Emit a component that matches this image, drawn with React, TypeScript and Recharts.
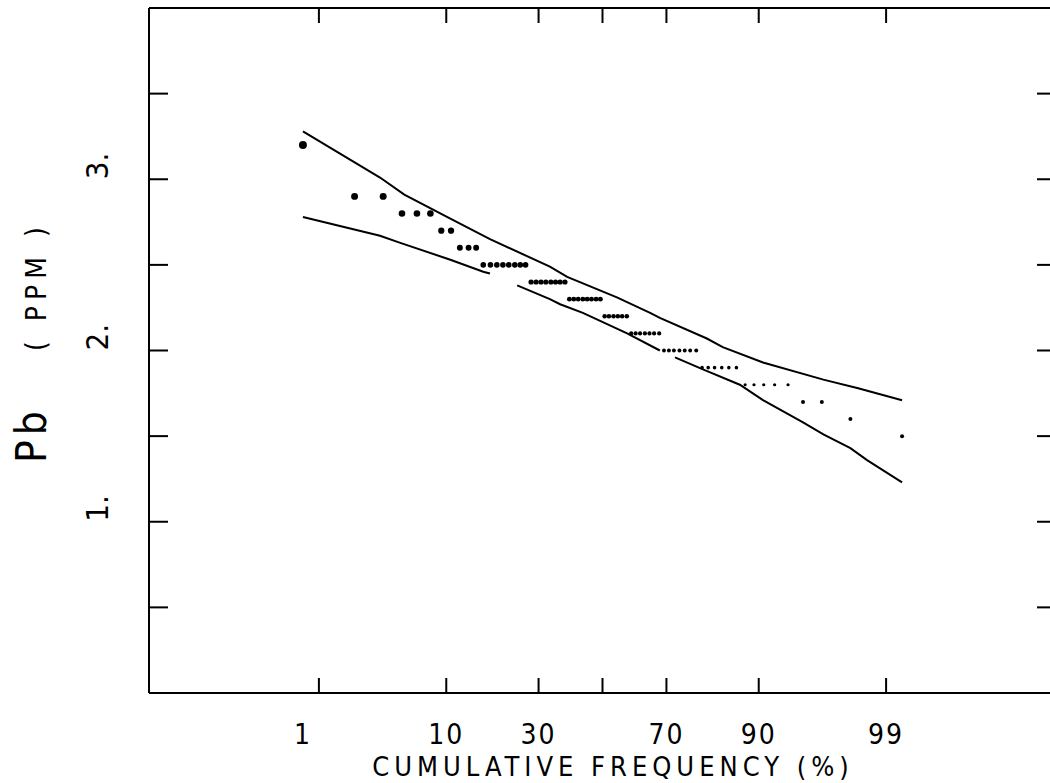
import React from 'react'
import {
  ComposedChart,
  Scatter,
  Line,
  XAxis,
  YAxis,
} from 'recharts'

// cumulative frequency (%) of each sample and its Pb value
const cumFreq = [
  0.7, 2.1, 3.6, 5.0, 6.4, 7.9, 9.3, 10.7, 12.1, 13.6, 15.0, 16.4, 17.9, 19.3,
  20.7, 22.1, 23.6, 25.0, 26.4, 27.9, 29.3, 30.7, 32.1, 33.6, 35.0, 36.4, 37.9,
  39.3, 40.7, 42.1, 43.6, 45.0, 46.4, 47.9, 49.3, 50.7, 52.1, 53.6, 55.0, 56.4,
  57.9, 59.3, 60.7, 62.1, 63.6, 65.0, 66.4, 67.9, 69.3, 70.7, 72.1, 73.6, 75.0,
  76.4, 77.9, 79.3, 80.7, 82.1, 83.6, 85.0, 86.4, 87.9, 89.3, 90.7, 92.1, 93.6,
  95.0, 96.4, 97.9, 99.3,
]
const pbValues = [
  3.2, 2.9, 2.9, 2.8, 2.8, 2.8, 2.7, 2.7, 2.6, 2.6, 2.6, 2.5, 2.5, 2.5, 2.5,
  2.5, 2.5, 2.5, 2.5, 2.4, 2.4, 2.4, 2.4, 2.4, 2.4, 2.4, 2.4, 2.3, 2.3, 2.3,
  2.3, 2.3, 2.3, 2.3, 2.3, 2.2, 2.2, 2.2, 2.2, 2.2, 2.2, 2.1, 2.1, 2.1, 2.1,
  2.1, 2.1, 2.1, 2.0, 2.0, 2.0, 2.0, 2.0, 2.0, 2.0, 1.9, 1.9, 1.9, 1.9, 1.9,
  1.9, 1.8, 1.8, 1.8, 1.8, 1.8, 1.7, 1.7, 1.6, 1.5,
]

// confidence band curves
const upperFreq = [0.7, 3.4, 5.2, 10.1, 17.8, 33.3, 38.6, 54.7, 65.2, 68.1, 80.4, 83.8, 90.6, 96.5, 98.2, 99.3]
const upperPb = [3.28, 3.01, 2.91, 2.78, 2.65, 2.49, 2.43, 2.31, 2.22, 2.19, 2.07, 2.02, 1.93, 1.83, 1.78, 1.71]
const lowerFreq = [0.7, 3.4, 4.8, 10.6, 16.4, 17.8, 21.0, 24.2, 33.3, 36.4, 43.6, 58.0, 68.1, 70.2, 72.4, 79.5, 87.0, 90.6, 95.0, 96.5, 97.9, 98.5, 99.3]
const lowerPb = [2.78, 2.67, 2.63, 2.53, 2.46, 2.45, null, 2.38, 2.3, 2.27, 2.22, 2.1, 2.0, null, 1.96, 1.89, 1.8, 1.71, 1.58, 1.51, 1.43, 1.36, 1.23]

const xTickPercents = [1, 10, 30, 50, 70, 90, 99]
const xTickLabels = ['1', '10', '30', '', '70', '90', '99']
const yTicks = [0.5, 1, 1.5, 2, 2.5, 3, 3.5]
const yTickLabels = ['', '1.', '', '2.', '', '3.', '']

const FONT = "'DejaVu Sans Condensed', 'DejaVu Sans', sans-serif"

// inverse normal cdf (probability scale)
function probit(p: number) {
  const a = [-39.69683028665376, 220.9460984245205, -275.9285104469687, 138.357751867269, -30.66479806614716, 2.506628277459239]
  const b = [-54.47609879822406, 161.5858368580409, -155.6989798598866, 66.80131188771972, -13.28068155288572]
  const c = [-0.007784894002430293, -0.3223964580411365, -2.400758277161838, -2.549732539343734, 4.374664141464968, 2.938163982698783]
  const d = [0.007784695709041462, 0.3224671290700398, 2.445134137142996, 3.754408661907416]
  const plow = 0.02425
  if (p < plow) {
    const q = Math.sqrt(-2 * Math.log(p))
    return (((((c[0] * q + c[1]) * q + c[2]) * q + c[3]) * q + c[4]) * q + c[5]) / ((((d[0] * q + d[1]) * q + d[2]) * q + d[3]) * q + 1)
  }
  if (p <= 1 - plow) {
    const q = p - 0.5
    const r = q * q
    return ((((((a[0] * r + a[1]) * r + a[2]) * r + a[3]) * r + a[4]) * r + a[5]) * q) / (((((b[0] * r + b[1]) * r + b[2]) * r + b[3]) * r + b[4]) * r + 1)
  }
  const q = Math.sqrt(-2 * Math.log(1 - p))
  return -(((((c[0] * q + c[1]) * q + c[2]) * q + c[3]) * q + c[4]) * q + c[5]) / ((((d[0] * q + d[1]) * q + d[2]) * q + d[3]) * q + 1)
}

const points = cumFreq.map((f, i) => ({ x: probit(f / 100), y: pbValues[i] }))
const upper = upperFreq.map((f, i) => ({ x: probit(f / 100), y: upperPb[i] }))
const lower = lowerFreq.map((f, i) => ({ x: probit(f / 100), y: lowerPb[i] }))
const xTicks = xTickPercents.map((p) => probit(p / 100))

const dotRadius = (pb: number) => (pb >= 1.8 ? 1.6 + (pb - 1.8) * 1.7 : 2)

const Dot = (props: any) => {
  const { cx, cy, payload } = props
  return <circle cx={cx} cy={cy} r={dotRadius(payload.y)} fill="#000" />
}

const BottomTick = (props: any) => {
  const { x, y, index } = props
  const label = xTickLabels[index]
  return (
    <g>
      <line x1={x} y1={y} x2={x} y2={y - 15} stroke="#000" strokeWidth={2} />
      <text x={x + (label.length === 1 ? -16 : 0)} y={y + 51} textAnchor="middle" fontFamily={FONT} fontSize={28} letterSpacing={2} fill="#000">
        {label}
      </text>
    </g>
  )
}

const TopTick = (props: any) => {
  const { x, y } = props
  return <line x1={x} y1={y} x2={x} y2={y + 15} stroke="#000" strokeWidth={2} />
}

const LeftTick = (props: any) => {
  const { x, y, index } = props
  const tx = x - 41
  return (
    <g>
      <line x1={x} y1={y} x2={x + 19} y2={y} stroke="#000" strokeWidth={2} />
      <text x={tx} y={y} transform={`rotate(-90 ${tx} ${y})`} textAnchor="start" fontFamily={FONT} fontSize={31} fill="#000">
        {yTickLabels[index]}
      </text>
    </g>
  )
}

const RightTick = (props: any) => {
  const { x, y } = props
  return <line x1={x} y1={y} x2={x - 19} y2={y} stroke="#000" strokeWidth={2} />
}

const YTitle = () => (
  <g fill="#000" fontFamily={FONT}>
    <text x={46} y={463} transform="rotate(-90 46 463)" fontSize={42} letterSpacing={5}>Pb</text>
    <text x={46} y={351} transform="rotate(-90 46 351)" fontSize={28} letterSpacing={6}>( PPM )</text>
  </g>
)

const XTitle = () => (
  <text x={613} y={776} textAnchor="middle" fontFamily={FONT} fontSize={27} letterSpacing={5} fill="#000">
    CUMULATIVE FREQUENCY (%)
  </text>
)

const axisLine = { stroke: '#000', strokeWidth: 2 }

export default function App() {
  return (
    <div style={{ position: 'absolute', left: 0, top: 0, width: 1050, height: 783, overflow: 'hidden', background: '#fff' }}>
      <ComposedChart width={1058} height={783} margin={{ top: 7, right: 1, bottom: 89, left: 148 }}>
        <XAxis
          xAxisId={0}
          type="number"
          dataKey="x"
          domain={[-3.72, 3.72]}
          allowDataOverflow
          ticks={xTicks}
          interval={0}
          height={1}
          tickSize={0}
          tickMargin={0}
          tickLine={false}
          tick={<BottomTick />}
          axisLine={axisLine}
          label={<XTitle />}
        />
        <XAxis
          xAxisId="top"
          orientation="top"
          type="number"
          dataKey="x"
          domain={[-3.72, 3.72]}
          allowDataOverflow
          ticks={xTicks}
          interval={0}
          height={1}
          tickSize={0}
          tickMargin={0}
          tickLine={false}
          tick={<TopTick />}
          axisLine={axisLine}
        />
        <YAxis
          yAxisId={0}
          type="number"
          dataKey="y"
          domain={[0, 4]}
          allowDataOverflow
          ticks={yTicks}
          interval={0}
          width={1}
          tickSize={0}
          tickMargin={0}
          tickLine={false}
          tick={<LeftTick />}
          axisLine={axisLine}
          label={<YTitle />}
        />
        <YAxis
          yAxisId="r"
          orientation="right"
          type="number"
          dataKey="y"
          domain={[0, 4]}
          allowDataOverflow
          ticks={yTicks}
          interval={0}
          width={1}
          tickSize={0}
          tickMargin={0}
          tickLine={false}
          tick={<RightTick />}
          axisLine={axisLine}
        />
        <Line data={upper} dataKey="y" type="linear" stroke="#000" strokeWidth={2} dot={false} isAnimationActive={false} />
        <Line data={lower} dataKey="y" type="linear" stroke="#000" strokeWidth={2} dot={false} isAnimationActive={false} />
        <Scatter data={points} dataKey="y" shape={<Dot />} isAnimationActive={false} />
      </ComposedChart>
    </div>
  )
}
